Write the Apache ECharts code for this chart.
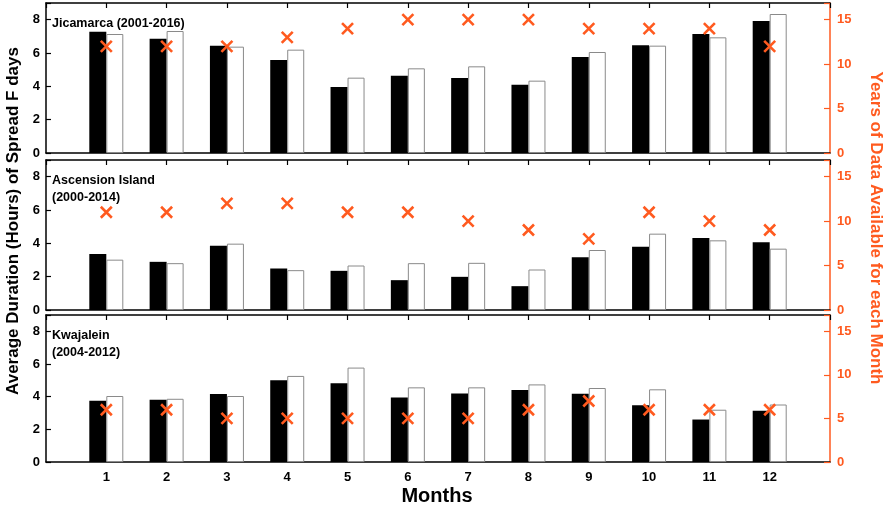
<!DOCTYPE html>
<html>
<head>
<meta charset="utf-8">
<script src="https://cdn.jsdelivr.net/npm/echarts@6/dist/echarts.min.js"></script>
<style>html,body{margin:0;padding:0;background:#fff}#c{width:886px;height:507px}</style>
</head>
<body>
<div id="c"></div>
<script>
const months = [1,2,3,4,5,6,7,8,9,10,11,12];
const monthTicks = ['1','2','3','4','5','6','7','8','9','10','11','12'];
const stations = ['Jicamarca (2001-2016)', 'Ascension Island\n(2000-2014)', 'Kwajalein\n(2004-2012)'];

const jicBlack = [7.28,6.86,6.44,5.58,3.96,4.64,4.50,4.10,5.76,6.46,7.14,7.92];
const jicWhite = [7.14,7.32,6.38,6.20,4.52,5.08,5.20,4.34,6.06,6.44,6.94,8.34];
const jicYears = [12,12,12,13,14,15,15,15,14,14,14,12];

const ascBlack = [3.36,2.89,3.86,2.49,2.35,1.79,1.99,1.43,3.16,3.80,4.32,4.06];
const ascWhite = [3.02,2.81,3.98,2.39,2.67,2.81,2.83,2.43,3.60,4.58,4.18,3.68];
const ascYears = [11,11,12,12,11,11,10,9,8,11,10,9];

const kwaBlack = [3.75,3.81,4.16,5.00,4.82,3.95,4.20,4.41,4.18,3.48,2.60,3.14];
const kwaWhite = [4.04,3.87,4.04,5.27,5.78,4.57,4.57,4.75,4.53,4.45,3.20,3.52];
const kwaYears = [6,6,5,5,5,5,5,6,7,6,6,6];

const panels = [
  {black: jicBlack, white: jicWhite, years: jicYears},
  {black: ascBlack, white: ascWhite, years: ascYears},
  {black: kwaBlack, white: kwaWhite, years: kwaYears}
];

const FONT = 'Liberation Sans, Arial, sans-serif';
const ORANGE = '#FF5A1F';
const gridTops = [3, 160, 315];
const gridHeights = [150, 150, 147];

const grid = [], xAxis = [], yAxis = [], series = [];
panels.forEach((p, i) => {
  grid.push({left: 46, right: 56, top: gridTops[i], height: gridHeights[i], containLabel: false});
  xAxis.push({
    type: 'value', gridIndex: i, position: 'bottom', min: 0, max: 13, interval: 1,
    axisLine: {show: true, onZero: false, lineStyle: {color: '#000', width: 1.5}},
    axisTick: {show: false}, splitLine: {show: false},
    axisLabel: {
      show: i === 2, margin: 9, color: '#000', fontWeight: 'bold', fontSize: 13, fontFamily: FONT,
      formatter: v => (v >= 1 && v <= 12) ? monthTicks[v - 1] : ''
    }
  });
  xAxis.push({
    type: 'value', gridIndex: i, position: 'top', min: 0, max: 13, interval: 1,
    axisLine: {show: true, onZero: false, lineStyle: {color: '#000', width: 1.5}},
    axisTick: {show: true, inside: true, length: 5, lineStyle: {color: '#000', width: 1.2}},
    axisLabel: {show: false}, splitLine: {show: false}
  });
  yAxis.push({
    type: 'value', gridIndex: i, position: 'left', min: 0, max: 9, interval: 2,
    axisLine: {show: true, onZero: false, lineStyle: {color: '#000', width: 1.5}},
    axisTick: {show: true, inside: true, length: 5, lineStyle: {color: '#000', width: 1.2}},
    splitLine: {show: false},
    axisLabel: {margin: 6, color: '#000', fontWeight: 'bold', fontSize: 13, fontFamily: FONT,
      formatter: v => (v % 2 === 0) ? String(v) : ''}
  });
  yAxis.push({
    type: 'value', gridIndex: i, position: 'right', min: 0, max: 16.875, interval: 5,
    axisLine: {show: true, onZero: false, lineStyle: {color: ORANGE, width: 1.5}},
    axisTick: {show: true, inside: true, length: 6, lineStyle: {color: ORANGE, width: 1.2}},
    splitLine: {show: false},
    axisLabel: {margin: 7, color: ORANGE, fontWeight: 'bold', fontSize: 13, fontFamily: FONT,
      formatter: v => (v % 5 === 0) ? String(v) : ''}
  });
  series.push({
    type: 'bar', xAxisIndex: 2 * i, yAxisIndex: 2 * i,
    data: months.map((m, k) => [m, p.black[k]]),
    barWidth: 17, barGap: '0%', itemStyle: {color: '#000'}, silent: true
  });
  series.push({
    type: 'bar', xAxisIndex: 2 * i, yAxisIndex: 2 * i,
    data: months.map((m, k) => [m, p.white[k]]),
    barWidth: 17, barGap: '0%', itemStyle: {color: '#fff', borderColor: '#8a8a8a', borderWidth: 1}, silent: true
  });
  series.push({
    type: 'scatter', xAxisIndex: 2 * i, yAxisIndex: 2 * i + 1,
    data: months.map((m, k) => [m, p.years[k]]),
    symbol: 'path://M0,0L10,10M10,0L0,10', symbolSize: 11, z: 5,
    itemStyle: {color: 'none', borderColor: ORANGE, borderWidth: 2.6, opacity: 1}, silent: true
  });
});

const graphic = [];
stations.forEach((s, i) => {
  graphic.push({
    type: 'text', left: 52, top: gridTops[i] + 12,
    style: {text: s, font: 'bold 12.5px ' + FONT, fill: '#000', lineHeight: 17}
  });
});
graphic.push({
  type: 'text', x: 13, y: 221, rotation: Math.PI / 2,
  style: {text: 'Average Duration (Hours) of Spread F days', font: 'bold 17px ' + FONT, fill: '#000',
    align: 'center', verticalAlign: 'middle'}
});
graphic.push({
  type: 'text', x: 876, y: 228, rotation: -Math.PI / 2,
  style: {text: 'Years of Data Available for each Month', font: 'bold 17px ' + FONT, fill: ORANGE,
    align: 'center', verticalAlign: 'middle'}
});
graphic.push({
  type: 'text', x: 437, y: 496,
  style: {text: 'Months', font: 'bold 20px ' + FONT, fill: '#000', align: 'center', verticalAlign: 'middle'}
});

const chart = echarts.init(document.getElementById('c'), null, {renderer: 'canvas'});
chart.setOption({animation: false, grid, xAxis, yAxis, series, graphic});
</script>
</body>
</html>
